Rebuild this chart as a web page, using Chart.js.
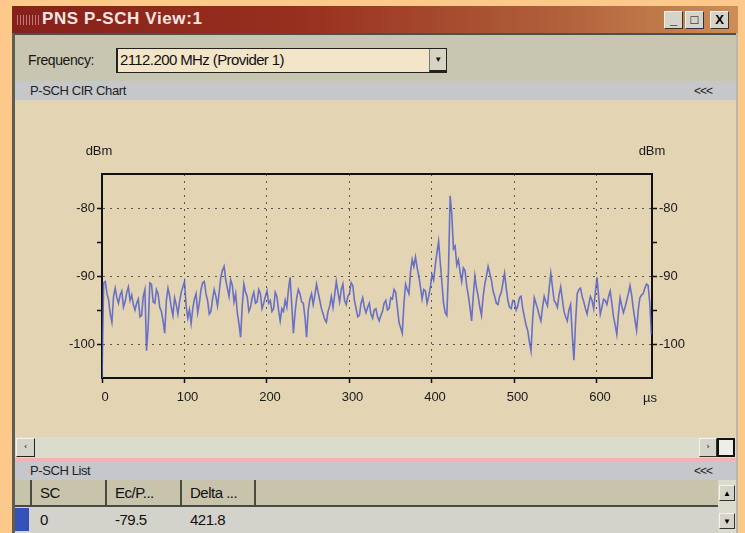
<!DOCTYPE html>
<html>
<head>
<meta charset="utf-8">
<script src="https://cdn.jsdelivr.net/npm/chart.js@4/dist/chart.umd.min.js"></script>
<style>
  body { margin: 0; width: 745px; height: 533px; background: #fcc98b; overflow: hidden;
         font-family: "Liberation Sans", Arial, sans-serif; position: relative; }
  .abs { position: absolute; }
  #titlebar { left: 12px; top: 6px; width: 726px; height: 27px;
              background: linear-gradient(90deg, #86201a 0%, #98301f 40%, #b0603a 75%, #cc8e56 100%); }
  #grip { left: 5px; top: 9px; width: 22px; height: 10px;
          background: repeating-linear-gradient(90deg, #d99 0 1px, transparent 1px 3px); opacity: 0.7; }
  #title { left: 30px; top: 3px; color: #fbe6e0; font-weight: bold; font-size: 17px; letter-spacing: 0.6px; }
  .wbtn { width: 19px; height: 18px; background: #d6d3c9; border: 1px solid #f4f2ea;
          border-right-color: #333; border-bottom-color: #333; box-sizing: border-box;
          font: bold 13px "Liberation Sans", Arial; color: #000; text-align: center; line-height: 16px; }
  #leftedge { left: 12px; top: 33px; width: 3px; height: 500px; background: #5d5d52; }
  #rightedge { left: 736px; top: 33px; width: 2px; height: 500px; background: #b9b8ab; }
  #toolbar { left: 15px; top: 33px; width: 721px; height: 48px; background: #c8c6b0;
             border-top: 2px solid #4f4f45; box-sizing: border-box; }
  #freqlbl { left: 28px; top: 52px; font-size: 14px; color: #161616; letter-spacing: -0.4px; }
  #combo { left: 116px; top: 48px; width: 331px; height: 25px; background: #f3e5c8; border: 1px solid #222;
           border-left-width: 2px; box-sizing: border-box; font-size: 15px; line-height: 22px; padding-left: 2px;
           color: #111; letter-spacing: -0.6px; }
  #combobtn { right: 0; top: 0; width: 17px; height: 23px; background: #d8d4c4; border-left: 1px solid #777;
              border-bottom: 2px solid #222; box-sizing: border-box; font-size: 8px; text-align: center; line-height: 21px; }
  .hdr { left: 15px; width: 721px; height: 19px; background: #c5c7cb; font-size: 13px; color: #222;
         line-height: 20px; letter-spacing: -0.4px; }
  .hdr span.l { position: absolute; left: 15px; top: 0; }
  .hdr span.r { position: absolute; right: 24px; top: 0; letter-spacing: -1px; font-size: 12px; }
  #chartbg { left: 15px; top: 100px; width: 721px; height: 337px; background: #e3d4b3; }
  #scroll { left: 15px; top: 437px; width: 721px; height: 21px; background: #dcdccc; }
  #pink { left: 15px; top: 458px; width: 721px; height: 3px; background: #f2b3ae; }
  #thead { left: 15px; top: 480px; width: 703px; height: 27px; background: #c8c4ac;
           border-bottom: 2px solid #4a4a42; box-sizing: border-box; }
  .th { top: 0; height: 25px; border-right: 2px solid #4a4a42; box-sizing: border-box; font-size: 15px;
        line-height: 26px; padding-left: 8px; color: #111; letter-spacing: -0.5px; }
  #row { left: 15px; top: 507px; width: 703px; height: 26px; background: #d3d2cb; font-size: 15px;
         color: #111; line-height: 25px; letter-spacing: -0.5px; }
  #vscroll { left: 718px; top: 480px; width: 18px; height: 53px; background: #dcdccc; }
</style>
</head>
<body>
<div id="titlebar" class="abs">
  <div id="grip" class="abs"></div>
  <div id="title" class="abs">PNS P-SCH View:1</div>
  <div class="abs wbtn" style="left:652px;top:5px">_</div>
  <div class="abs wbtn" style="left:673px;top:5px">□</div>
  <div class="abs wbtn" style="left:698px;top:5px">X</div>
</div>
<div id="leftedge" class="abs"></div>
<div id="rightedge" class="abs"></div>
<div id="toolbar" class="abs"></div>
<div id="freqlbl" class="abs">Frequency:</div>
<div id="combo" class="abs">2112.200 MHz (Provider 1)<div id="combobtn" class="abs">▼</div></div>
<div class="abs hdr" style="top:81px"><span class="l">P-SCH CIR Chart</span><span class="r">&lt;&lt;&lt;</span></div>
<div id="chartbg" class="abs"></div>
<div id="scroll" class="abs">
  <div class="abs wbtn" style="left:1px;top:1px;width:19px;height:19px;font-size:8px;font-weight:normal;border-right-color:#222;border-bottom-color:#222">‹</div>
  <div class="abs wbtn" style="left:684px;top:1px;width:18px;height:19px;font-size:8px;font-weight:normal">›</div>
  <div class="abs" style="left:702px;top:1px;width:18px;height:19px;border:2px solid #111;box-sizing:border-box;background:#eeeee6"></div>
</div>
<div id="pink" class="abs"></div>
<div class="abs hdr" style="top:461px"><span class="l">P-SCH List</span><span class="r">&lt;&lt;&lt;</span></div>
<div id="thead" class="abs">
  <div class="abs th" style="left:0;width:17px;padding:0"></div>
  <div class="abs th" style="left:17px;width:75px">SC</div>
  <div class="abs th" style="left:92px;width:75px">Ec/P...</div>
  <div class="abs th" style="left:167px;width:74px">Delta ...</div>
</div>
<div id="row" class="abs">
  <div class="abs" style="left:0;top:1px;width:14px;height:23px;background:#3552b8"></div>
  <div class="abs" style="left:25px">0</div>
  <div class="abs" style="left:100px">-79.5</div>
  <div class="abs" style="left:175px">421.8</div>
</div>
<div id="vscroll" class="abs">
  <div class="abs wbtn" style="left:1px;top:5px;width:16px;height:16px;font-size:8px;font-weight:normal">▲</div>
  <div class="abs wbtn" style="left:1px;top:33px;width:16px;height:16px;font-size:8px;font-weight:normal">▼</div>
</div>
<canvas id="cir" class="abs" width="722" height="336" style="left:15px;top:100px"></canvas>
<script>
// P-SCH channel impulse response, one sample every 2 µs over one slot
const sampleStepUs = 2;
const slotLengthUs = 666.67;
const cirDbm = [
  -105, -91.0, -90.8, -92.6, -93.5, -95.6, -96.8, -93.0, -91.8, -93.2,
  -94.0, -92.8, -92.2, -94.6, -93.8, -92.4, -91.6, -93.6, -92.8, -94.2,
  -95.0, -94.0, -93.4, -96.0, -95.8, -93.0, -92.0, -101.0, -97.4, -91.0,
  -91.2, -93.8, -94.0, -92.0, -92.6, -94.6, -95.2, -96.6, -98.4, -93.6,
  -91.8, -93.0, -94.6, -95.8, -93.2, -94.2, -95.6, -93.8, -92.4, -91.6,
  -90.8, -94.4, -96.2, -95.0, -97.0, -94.8, -93.4, -92.6, -95.4, -94.0,
  -92.0, -91.0, -90.8, -92.6, -93.6, -95.6, -95.2, -93.4, -92.0, -93.0,
  -94.4, -92.4, -90.2, -89.2, -88.6, -90.6, -91.8, -93.0, -90.6, -91.4,
  -93.8, -92.6, -95.4, -97.0, -99.0, -94.4, -91.2, -92.4, -93.0, -95.2,
  -94.6, -93.2, -92.4, -94.0, -93.8, -92.0, -92.6, -94.8, -94.0, -93.0,
  -92.2, -94.0, -93.6, -95.2, -94.8, -92.4, -93.0, -95.0, -96.6, -94.8,
  -95.2, -93.6, -94.6, -92.0, -90.2, -94.2, -98.4, -95.4, -93.2, -92.0,
  -92.6, -93.8, -94.0, -96.0, -99.0, -95.0, -93.4, -92.6, -94.2, -92.8,
  -91.2, -92.4, -93.6, -94.8, -95.6, -96.4, -96.8, -95.2, -94.4, -93.0,
  -94.6, -92.8, -90.8, -92.4, -93.8, -92.0, -91.2, -93.6, -94.2, -93.0,
  -92.6, -91.0, -91.4, -93.6, -94.8, -96.0, -95.8, -94.0, -93.2, -94.6,
  -95.4, -94.6, -94.0, -95.6, -96.2, -95.0, -94.8, -96.0, -96.6, -95.8,
  -95.2, -94.0, -93.6, -95.0, -94.8, -93.2, -93.4, -92.0, -92.4, -94.6,
  -96.8, -97.6, -98.4, -94.0, -91.2, -92.0, -92.6, -89.4, -87.6, -88.6,
  -87.2, -88.8, -90.0, -91.6, -93.4, -92.0, -92.2, -94.0, -93.0, -91.6,
  -89.8, -90.6, -88.4, -86.6, -84.9, -88.0, -91.0, -94.0, -95.4, -95.8,
  -89.0, -78.2, -81.0, -86.0, -85.6, -88.4, -87.6, -89.4, -90.8, -88.8,
  -89.2, -91.4, -92.8, -94.6, -96.6, -93.0, -90.0, -91.8, -93.0, -94.6,
  -95.8, -93.0, -91.2, -90.0, -88.6, -89.6, -90.6, -92.2, -93.0, -94.0,
  -94.2, -93.0, -92.4, -91.0, -89.6, -91.8, -93.6, -94.6, -94.8, -93.6,
  -93.8, -95.0, -94.4, -93.2, -93.0, -94.8, -96.0, -97.2, -98.0, -99.6,
  -101.0, -96.4, -93.2, -94.0, -94.8, -95.8, -96.6, -94.6, -93.0, -93.8,
  -94.4, -91.8, -89.6, -91.6, -93.6, -94.0, -94.6, -92.8, -91.6, -93.4,
  -95.2, -96.0, -96.6, -95.0, -94.2, -98.6, -102.4, -96.8, -92.6, -92.0,
  -91.8, -93.0, -93.8, -94.8, -95.6, -94.2, -93.0, -93.6, -94.8, -92.4,
  -90.2, -93.0, -95.6, -94.6, -93.4, -93.6, -94.2, -93.0, -92.2, -94.0,
  -96.0, -97.2, -98.6, -95.6, -93.2, -94.4, -95.4, -94.6, -93.6, -92.6,
  -91.4, -92.8, -94.8, -96.4, -98.0, -95.0, -93.2, -92.8, -92.6, -91.8,
  -91.2, -91.4, -94.0, -98.6
];
const xTickLabels = [0, 100, 200, 300, 400, 500, 600];
const yTickLabels = [-80, -90, -100];
const yMin = -105, yMax = -75;

const points = cirDbm.map((v, i) => ({ x: i * sampleStepUs, y: v }));

const tickFont = { family: '"Liberation Sans", Arial, sans-serif', size: 13 };
const gridGrey = '#5a574f';

const yScale = (position) => ({
  type: 'linear',
  position: position,
  min: yMin,
  max: yMax,
  afterFit: (s) => { s.width = position === 'left' ? 87 : 85; },
  ticks: {
    stepSize: 5,
    color: '#1a1a1a',
    font: tickFont,
    padding: 2,
    callback: (v) => yTickLabels.includes(v) ? String(v) : ''
  },
  grid: {
    drawOnChartArea: position === 'left',
    color: (c) => c.tick && yTickLabels.includes(c.tick.value) ? gridGrey : 'transparent',
    tickColor: (c) => c.tick && (c.tick.value === yMin || c.tick.value === yMax) ? 'transparent' : '#111',
    tickLength: 5,
    tickWidth: 1.5
  },
  border: { display: true, color: '#111', width: 2, dash: [2, 5] }
});

// frame around the plot plus the unit labels
const framePlugin = {
  id: 'frame',
  beforeDatasetsDraw(chart) {
    const { ctx, chartArea: a } = chart;
    ctx.save();
    ctx.strokeStyle = '#111';
    ctx.lineWidth = 2;
    ctx.setLineDash([]);
    ctx.strokeRect(a.left, a.top, a.right - a.left, a.bottom - a.top);
    ctx.fillStyle = '#1a1a1a';
    ctx.font = '13px "Liberation Sans", Arial, sans-serif';
    ctx.textAlign = 'center';
    ctx.textBaseline = 'middle';
    ctx.fillText('dBm', a.left - 3, 51);
    ctx.fillText('dBm', a.right, 51);
    ctx.fillText('µs', a.right - 2, 298);
    ctx.restore();
  }
};

new Chart(document.getElementById('cir'), {
  type: 'line',
  data: {
    datasets: [{
      data: points,
      borderColor: 'rgba(74, 88, 204, 0.8)',
      borderWidth: 1.6,
      pointRadius: 0,
      tension: 0,
      fill: false
    }]
  },
  options: {
    responsive: false,
    animation: false,
    devicePixelRatio: 1,
    layout: { padding: { top: 74, left: 0, right: 0, bottom: 0 } },
    plugins: { legend: { display: false }, tooltip: { enabled: false } },
    scales: {
      x: {
        type: 'linear',
        min: 0,
        max: slotLengthUs,
        afterFit: (s) => { s.height = 58; },
        ticks: {
          stepSize: 100,
          includeBounds: false,
          color: '#1a1a1a',
          font: tickFont,
          padding: 7,
          labelOffset: 3,
          callback: (v) => xTickLabels.includes(v) ? String(v) : ''
        },
        grid: {
          color: (c) => c.tick && c.tick.value > 0 && c.tick.value < 650 ? gridGrey : 'transparent',
          tickColor: '#111',
          tickLength: 5,
          tickWidth: 1.5
        },
        border: { display: true, color: '#111', width: 2, dash: [2, 5] }
      },
      y: yScale('left'),
      y2: yScale('right')
    }
  },
  plugins: [framePlugin]
});
</script>
</body>
</html>
